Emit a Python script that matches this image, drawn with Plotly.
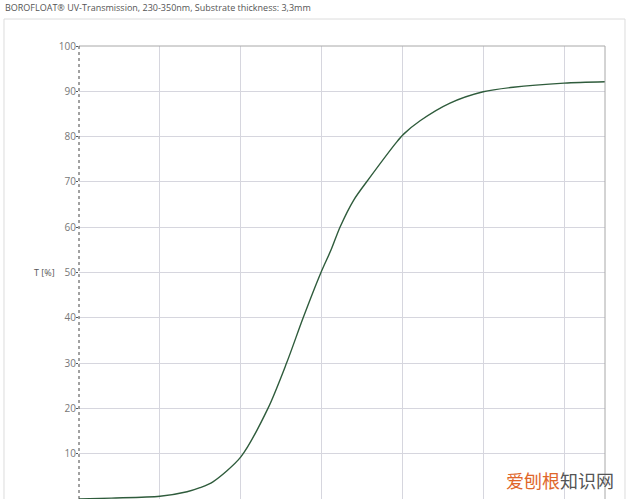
import plotly.graph_objects as go

# Data
wavelength_nm = [230, 238, 250, 256.7, 259.9, 263.1, 270, 276.7, 281.3, 285.4, 289.8,
                 292.3, 294.5, 297.9, 301.9, 308.6, 310.3, 314.3, 321.7, 329.9, 337.3, 349.9, 360]
transmission_pct = [0, 0.2, 0.6, 1.6, 2.5, 3.8, 9.3, 20, 30, 40, 50,
                    55, 60, 66, 71, 78.9, 80.6, 83.5, 87.4, 89.9, 90.9, 91.8, 92.1]
y_ticks = [0, 10, 20, 30, 40, 50, 60, 70, 80, 90, 100]

title_text = "BOROFLOAT® UV-Transmission, 230-350nm, Substrate thickness: 3,3mm"
y_label = "T [%]"

fig = go.Figure()
fig.add_trace(go.Scatter(
    x=wavelength_nm, y=transmission_pct, mode="lines",
    line=dict(color="#2f5c3c", width=1.4, shape="spline", smoothing=0.8),
    hoverinfo="skip", showlegend=False,
))

fig.update_layout(
    width=640, height=499,
    margin=dict(l=79, r=35, t=46, b=0),
    paper_bgcolor="white", plot_bgcolor="white",
    font=dict(family="Open Sans", size=10, color="#666"),
    xaxis=dict(range=[230, 360], tick0=230, dtick=20, showgrid=True,
               gridcolor="#d6d6de", gridwidth=1, showticklabels=False,
               zeroline=False, showline=False, ticks=""),
    yaxis=dict(range=[0, 100], tickvals=y_ticks, showgrid=True,
               gridcolor="#d6d6de", gridwidth=1, zeroline=False,
               showline=False, ticks="outside", ticklen=2, tickcolor="#555",
               ticklabelstandoff=-2,
               tickfont=dict(family="Open Sans", size=10, color="#777")),
    shapes=[
        # outer panel frame
        dict(type="rect", xref="paper", yref="paper", x0=-0.1426, x1=1.038,
             y0=-0.2, y1=1.0596, line=dict(color="#dcdcdc", width=1)),
        # plot border top/right
        dict(type="line", xref="paper", yref="paper", x0=0, x1=1, y0=1, y1=1,
             line=dict(color="#a8a8a8", width=1)),
        dict(type="line", xref="paper", yref="paper", x0=1, x1=1, y0=0, y1=1,
             line=dict(color="#a8a8a8", width=1)),
        # y axis line (dotted look)
        dict(type="line", xref="paper", yref="paper", x0=0, x1=0, y0=0, y1=1,
             line=dict(color="#444", width=1, dash="dot")),
    ],
    annotations=[
        dict(text=title_text, xref="paper", yref="paper", x=-0.145, y=1.084,
             xanchor="left", yanchor="middle", showarrow=False,
             font=dict(family="Open Sans", size=9, color="#555")),
        dict(text=y_label, xref="paper", yref="paper", x=-0.065, y=0.5,
             xanchor="center", yanchor="middle", showarrow=False,
             font=dict(family="Open Sans", size=9, color="#555")),
        dict(text="<span style='color:#e0662a'>爱刨根</span><span style='color:#555555'>知识网</span>",
             xref="paper", yref="paper", x=0.914, y=0.042,
             xanchor="center", yanchor="middle", showarrow=False,
             font=dict(family="Noto Sans CJK SC", size=18)),
    ],
)

fig.write_html("out.html", config={"displayModeBar": False},
               post_script="document.body.style.margin='0';document.body.style.overflow='hidden';")
